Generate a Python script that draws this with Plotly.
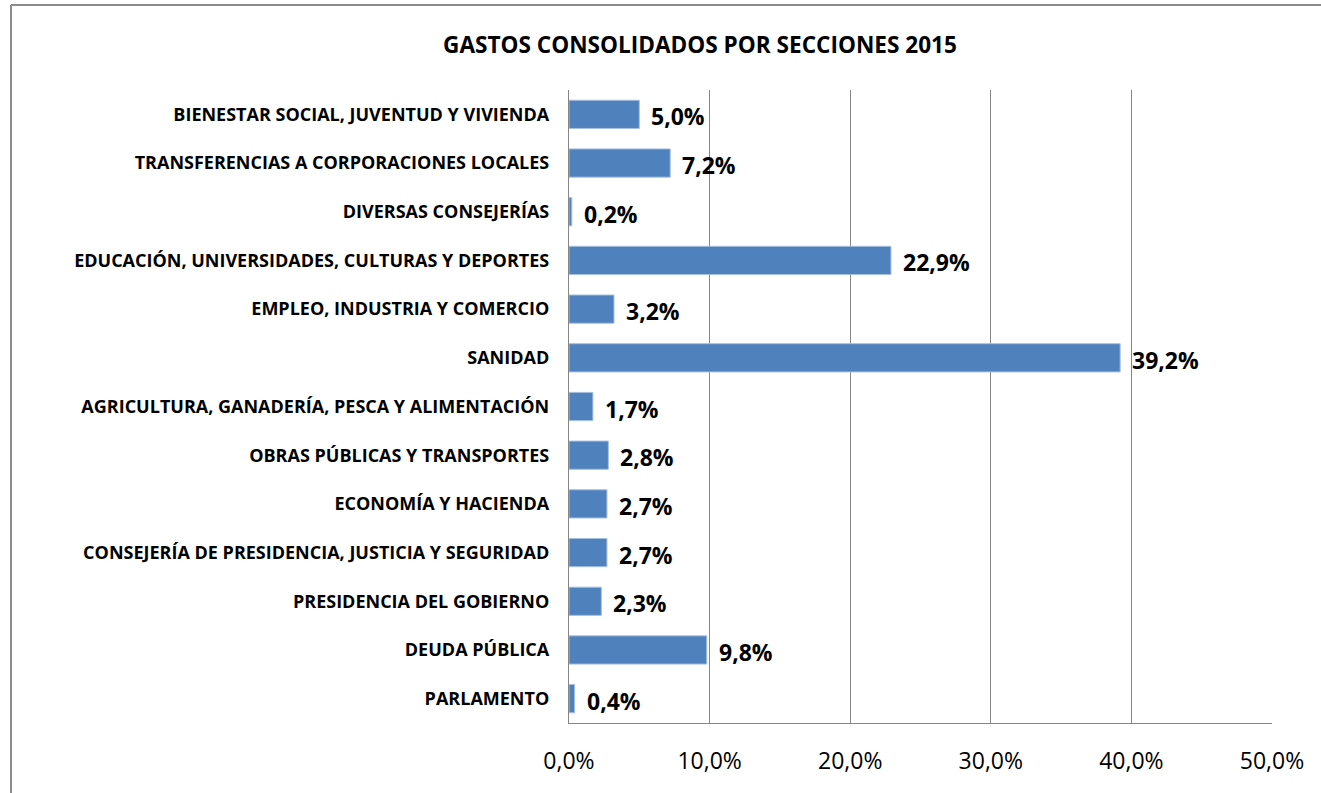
import plotly.graph_objects as go

categories = [
    "PARLAMENTO",
    "DEUDA PÚBLICA",
    "PRESIDENCIA DEL GOBIERNO",
    "CONSEJERÍA DE PRESIDENCIA, JUSTICIA Y SEGURIDAD",
    "ECONOMÍA Y HACIENDA",
    "OBRAS PÚBLICAS Y TRANSPORTES",
    "AGRICULTURA, GANADERÍA, PESCA Y ALIMENTACIÓN",
    "SANIDAD",
    "EMPLEO, INDUSTRIA Y COMERCIO",
    "EDUCACIÓN, UNIVERSIDADES, CULTURAS Y DEPORTES",
    "DIVERSAS CONSEJERÍAS",
    "TRANSFERENCIAS A CORPORACIONES LOCALES",
    "BIENESTAR SOCIAL, JUVENTUD Y VIVIENDA",
]
values = [0.4, 9.8, 2.3, 2.7, 2.7, 2.8, 1.7, 39.2, 3.2, 22.9, 0.2, 7.2, 5.0]
tick_values = [0, 10, 20, 30, 40, 50]
tick_labels = [f"{t:.1f}%".replace(".", ",") for t in tick_values]

FONT = "'Open Sans', sans-serif"
W, H = 1321, 793
L, R, T, B = 569, 1272, 90, 723

fig = go.Figure(
    go.Bar(
        x=values,
        y=categories,
        orientation="h",
        marker=dict(color="#4F81BD", line=dict(color="#A7C0E0", width=1)),
        width=0.58,
        hoverinfo="x+y",
    )
)

annotations = [
    dict(
        x=v, y=c, xref="x", yref="y", text=f"<b>{v:.1f}%</b>".replace(".", ","),
        showarrow=False, xanchor="left", yanchor="middle", xshift=10, yshift=-2,
        font=dict(family=FONT, size=23, color="#000000"),
    )
    for v, c in zip(values, categories)
]

pw, ph = R - L, B - T
def px(xp):
    return (xp - L) / pw
def py(yp):
    return (B - yp) / ph

frame = dict(color="#8C8C8C", width=2)

fig.update_layout(
    width=W, height=H,
    margin=dict(l=L, r=W - R, t=T, b=H - B, autoexpand=False),
    paper_bgcolor="white", plot_bgcolor="white",
    separators=",.",
    showlegend=False,
    title=dict(
        text="<b>GASTOS CONSOLIDADOS POR SECCIONES 2015</b>",
        x=700 / W, xanchor="center", xref="container",
        y=1 - 45 / H, yanchor="middle", yref="container",
        font=dict(family=FONT, size=22.6, color="#000000"),
    ),
    xaxis=dict(
        range=[0, 50], tickvals=tick_values, ticktext=tick_labels,
        showgrid=True, gridcolor="#868686", gridwidth=1.3,
        showline=True, linecolor="#868686", linewidth=1.3,
        zeroline=False, ticks="", ticklabelstandoff=17,
        tickfont=dict(family=FONT, size=23, color="#000000"),
        fixedrange=True,
    ),
    yaxis=dict(
        categoryorder="array", categoryarray=categories,
        showgrid=False, showline=True, linecolor="#868686", linewidth=1.3,
        ticks="", ticklabelstandoff=15,
        tickfont=dict(family=FONT, size=18, color="#000000", weight="bold"),
        fixedrange=True,
    ),
    annotations=annotations,
    shapes=[
        dict(type="line", xref="paper", yref="paper",
             x0=px(11), x1=px(11), y0=py(H + 5), y1=py(5), line=frame),
        dict(type="line", xref="paper", yref="paper",
             x0=px(11), x1=px(W + 5), y0=py(5), y1=py(5), line=frame),
    ],
)

fig.write_html(
    "out.html",
    config={"displayModeBar": False},
    post_script="document.body.style.margin='0';document.body.style.overflow='hidden';",
)
